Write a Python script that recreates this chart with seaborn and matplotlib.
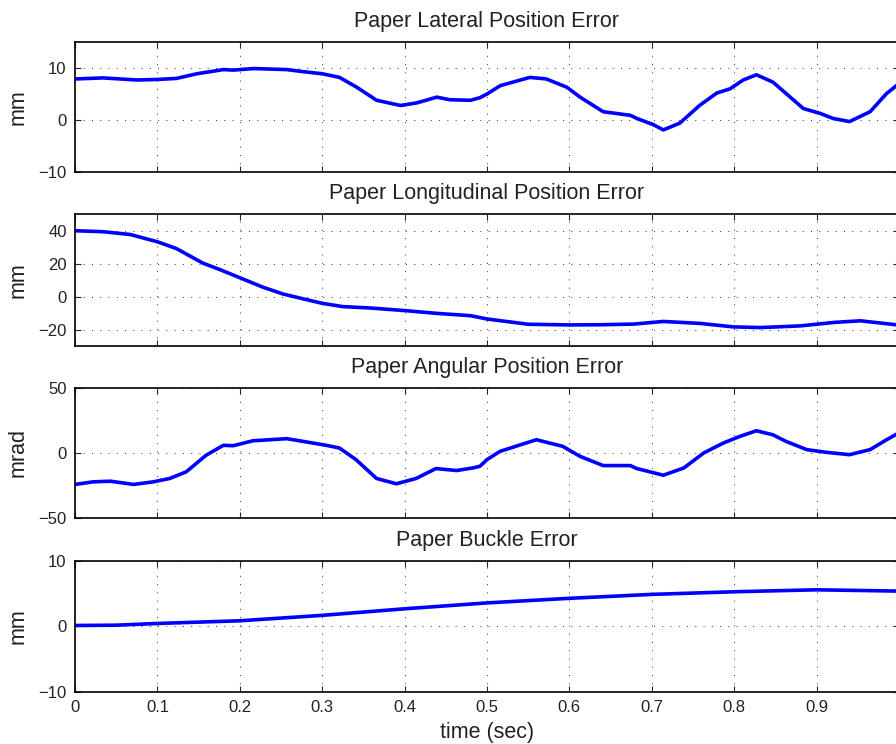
import matplotlib
matplotlib.use("Agg")
import matplotlib.pyplot as plt
import seaborn as sns
import pandas as pd

# values
lat_t = [0.0, 0.034, 0.075, 0.1, 0.123, 0.148, 0.18, 0.192, 0.217, 0.257, 0.277, 0.3,
         0.321, 0.342, 0.366, 0.395, 0.415, 0.439, 0.455, 0.48, 0.4915, 0.5, 0.516,
         0.552, 0.572, 0.597, 0.613, 0.641, 0.674, 0.682, 0.702, 0.714, 0.734, 0.758,
         0.779, 0.795, 0.811, 0.827, 0.847, 0.863, 0.884, 0.904, 0.92, 0.94, 0.965,
         0.985, 1.0]
lat_mm = [7.9, 8.1, 7.7, 7.8, 8.0, 8.9, 9.7, 9.6, 9.9, 9.7, 9.3, 8.9,
          8.2, 6.3, 3.8, 2.8, 3.3, 4.4, 3.9, 3.8, 4.3, 5.0, 6.6,
          8.2, 7.9, 6.3, 4.4, 1.6, 0.9, 0.3, -0.9, -1.9, -0.6, 2.8,
          5.2, 6.0, 7.7, 8.7, 7.3, 5.1, 2.2, 1.3, 0.3, -0.3, 1.6,
          5.1, 7.0]

lon_t = [0.0, 0.034, 0.067, 0.1, 0.123, 0.155, 0.176, 0.2, 0.228, 0.252, 0.277, 0.3,
         0.325, 0.357, 0.4, 0.439, 0.48, 0.5, 0.55, 0.6, 0.637, 0.678, 0.714, 0.759,
         0.799, 0.832, 0.88, 0.921, 0.953, 1.0]
lon_mm = [39.9, 39.3, 37.6, 33.2, 29.1, 20.3, 16.3, 11.4, 5.7, 1.6, -1.4, -4.1,
          -6.1, -6.9, -8.5, -10.2, -11.6, -13.6, -16.8, -17.2, -17.1, -16.7, -15.1, -16.3,
          -18.4, -18.8, -17.8, -15.7, -14.7, -17.3]

ang_t = [0.0, 0.022, 0.043, 0.071, 0.095, 0.115, 0.135, 0.159, 0.18, 0.192, 0.216, 0.257,
         0.277, 0.305, 0.321, 0.341, 0.366, 0.39, 0.414, 0.438, 0.463, 0.483, 0.4915,
         0.5, 0.516, 0.56, 0.592, 0.613, 0.641, 0.674, 0.682, 0.714, 0.739, 0.763,
         0.787, 0.807, 0.827, 0.847, 0.863, 0.888, 0.912, 0.94, 0.965, 0.985, 1.0]
ang_mrad = [-24.2, -22.2, -21.7, -24.2, -22.2, -19.6, -14.5, -1.8, 5.9, 5.6, 9.4, 11.0,
            8.9, 5.9, 3.8, -5.1, -19.6, -23.7, -19.6, -12.0, -13.5, -11.5, -10.2,
            -5.1, 1.3, 10.2, 5.1, -2.6, -9.7, -9.7, -12.0, -17.1, -11.5, 0.0,
            7.7, 12.8, 17.1, 14.0, 8.9, 2.6, 0.5, -1.3, 2.6, 10.2, 15.5]

buc_t = [0.0, 0.05, 0.1, 0.2, 0.3, 0.4, 0.5, 0.6, 0.7, 0.8, 0.9, 1.0]
buc_mm = [0.15, 0.2, 0.46, 0.87, 1.7, 2.7, 3.6, 4.3, 4.9, 5.3, 5.6, 5.4]

x_ticks = [0, 0.1, 0.2, 0.3, 0.4, 0.5, 0.6, 0.7, 0.8, 0.9, 1.0]
# the label at 1 falls outside the picture in the reference
x_labels = ['0', '0.1', '0.2', '0.3', '0.4', '0.5', '0.6', '0.7', '0.8', '0.9', '']

panels = [
    ('Paper Lateral Position Error', 'mm', lat_t, lat_mm, (-10, 15), [-10, 0, 10]),
    ('Paper Longitudinal Position Error', 'mm', lon_t, lon_mm, (-30, 50), [-20, 0, 20, 40]),
    ('Paper Angular Position Error', 'mrad', ang_t, ang_mrad, (-50, 50), [-50, 0, 50]),
    ('Paper Buckle Error', 'mm', buc_t, buc_mm, (-10, 10), [-10, 0, 10]),
]
# [left, bottom, width, height] in figure fraction
boxes = [
    [0.0837, 0.7688, 0.9196, 0.1747],
    [0.0837, 0.5349, 0.9196, 0.1774],
    [0.0837, 0.3038, 0.9196, 0.1747],
    [0.0837, 0.0699, 0.9196, 0.1761],
]

sns.set_style("white")
plt.rcParams['font.family'] = ['Liberation Sans', 'DejaVu Sans']

fig = plt.figure(figsize=(8.96, 7.44), dpi=100)

for i, (title, unit, t, v, ylim, yticks) in enumerate(panels):
    ax = fig.add_axes(boxes[i])
    df = pd.DataFrame({'t': t, 'v': v})
    sns.lineplot(data=df, x='t', y='v', ax=ax, color='#0000ff', linewidth=2.6,
                 estimator=None, sort=False)
    ax.set_xlim(0, 1)
    ax.set_ylim(*ylim)
    ax.set_xticks(x_ticks)
    ax.set_yticks(yticks)
    if i == 3:
        ax.set_xticklabels(x_labels)
        ax.set_xlabel('time (sec)', fontsize=15.5, color='#222222', labelpad=5)
    else:
        ax.set_xticklabels([])
        ax.set_xlabel('')
    ax.set_ylabel(unit, fontsize=15.5, color='#222222')
    ax.yaxis.set_label_coords(-0.056, 0.5)
    ax.set_title(title, fontsize=15.5, color='#222222', pad=10.5)

    ax.grid(True, color='0.2', linestyle=(0, (1, 7.5)), linewidth=0.7)
    ax.tick_params(direction='in', top=True, right=True, bottom=True, left=True,
                   length=4.5, width=0.8, labelsize=12, labelcolor='#222222', pad=6)
    for s in ax.spines.values():
        s.set_visible(True)
        s.set_color('black')
        s.set_linewidth(1.2)

plt.savefig('out.png', dpi=100)
